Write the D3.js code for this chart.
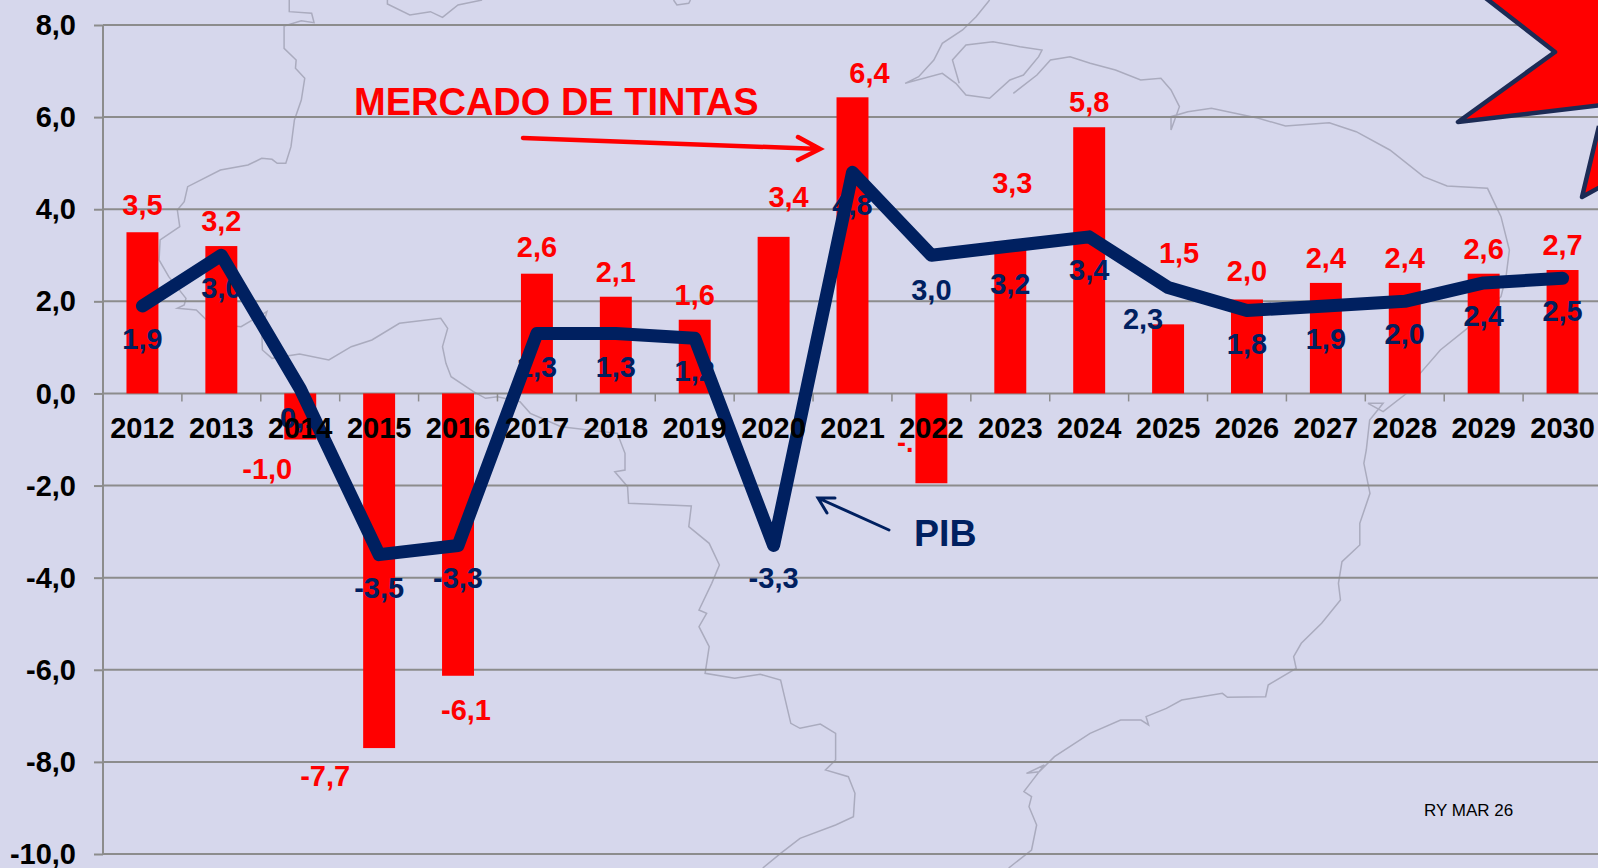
<!DOCTYPE html>
<html>
<head>
<meta charset="utf-8">
<script src="https://cdn.jsdelivr.net/npm/d3@7"></script>
<style>
  html, body { margin: 0; padding: 0; background: #d6d7ec; overflow: hidden; }
  svg { display: block; font-family: "Liberation Sans", Arial, sans-serif; }
</style>
</head>
<body>
<div id="chart"></div>
<script>
const years = [2012, 2013, 2014, 2015, 2016, 2017, 2018, 2019, 2020, 2021, 2022, 2023, 2024, 2025, 2026, 2027, 2028, 2029, 2030];
const tintas = [3.5, 3.2, -1.0, -7.7, -6.13, 2.6, 2.1, 1.6, 3.4, 6.43, -1.95, 3.3, 5.78, 1.5, 2.04, 2.4, 2.4, 2.6, 2.68];
const pib = [1.9, 3.0, 0.1, -3.5, -3.3, 1.3, 1.3, 1.2, -3.3, 4.8, 3.0, 3.2, 3.4, 2.3, 1.8, 1.9, 2.0, 2.4, 2.5];
const yTicks = [8, 6, 4, 2, 0, -2, -4, -6, -8, -10];

const width = 1598;
const height = 868;
const comma = v => v.toFixed(1).replace('.', ',');

const svg = d3.select('#chart').append('svg').attr('width', width).attr('height', height);

svg.append('rect').attr('width', width).attr('height', height).attr('fill', '#d6d7ec');

const z1 = ([x, y]) => [x / 2.904, y / 3];
const z2 = ([x, y]) => [540 + x / 2.958, y / 3];
const z3 = ([x, y]) => [1070 + x / 2.97, y / 3];
const z4 = ([x, y]) => [x / 1.96, 430 + y / 3];
const z5 = ([x, y]) => [800 + x / 1.965, 430 + y / 3];

const mapWest = [
  ...[[840,0],[840,35],[905,40],[912,68],[875,62],[825,78],[825,145],[860,180],[858,205],[885,235],[875,300],[855,360],[845,440],[830,490],[805,490],[790,478],[760,475],[720,495],[640,510],[545,560],[535,605],[515,630],[522,680],[465,720],[462,780],[490,830],[540,895],[535,915],[515,925],[570,930],[600,960],[650,975],[700,980],[775,935],[760,990],[762,1050],[790,1075],[870,1062],[955,1080],[1020,1040],[1080,1020],[1160,970],[1280,955],[1300,985],[1285,1040],[1295,1090],[1310,1130],[1375,1175],[1410,1195],[1445,1190],[1510,1205],[1540,1240]].map(z1),
  ...[[1100,-10],[1210,10],[1225,70],[1225,120],[1205,125],[1230,170],[1232,220],[1355,228],[1350,290],[1390,340],[1410,405],[1395,460],[1370,540],[1385,550],[1370,590],[1390,650],[1382,730],[1440,745],[1490,733],[1530,750],[1550,880],[1568,895]].map(z4),
  ...[[40,882],[70,910],[70,990],[50,1020],[95,1040],[108,1090],[105,1160],[70,1185],[0,1225]].map(z5),
  ...[[1530,1270],[1495,1314]].map(z4)
];
const mapTop = [[1125,0],[1125,12],[1190,45],[1250,35],[1285,52],[1330,15],[1400,0]].map(z1);
const mapTop2 = [[395,0],[405,15],[440,10],[445,0]].map(z2);
const mapIsland = [[1330,0],[1290,50],[1250,90],[1190,130],[1165,180],[1120,230],[1080,250],[1190,220],[1230,250],[1260,285],[1330,295],[1390,240],[1430,225],[1475,170],[1485,150],[1420,140],[1340,125],[1260,135],[1220,180],[1240,250]].map(z2);
const mapCoast = [
  ...[[1400,280],[1470,225],[1510,180],[1568,170]].map(z2),
  ...[[60,190],[135,210],[210,240],[270,235],[300,270],[325,320],[300,390],[300,350],[350,335],[420,325],[490,340],[560,355],[640,378],[770,368],[850,395],[950,450],[1050,530],[1120,558],[1240,565],[1280,650],[1305,750],[1295,830],[1280,890],[1180,985],[1100,1050],[1040,1120],[1000,1180],[930,1235],[885,1210],[930,1210],[890,1260],[880,1350]].map(z3),
  ...[[1108,100],[1120,190],[1100,280],[1100,345],[1065,395],[1058,460],[1062,510],[1025,580],[985,640],[970,680],[975,715],[920,765],[915,800],[840,802],[830,790],[750,810],[720,835],[680,860],[685,885],[670,870],[630,870],[570,910],[500,980],[470,1025],[445,1030],[480,1005],[455,1055],[440,1085],[455,1100],[450,1130],[465,1185],[455,1260],[410,1314]].map(z5)
];
svg.append('g').selectAll('path')
  .data([mapWest, mapTop, mapTop2, mapIsland, mapCoast])
  .enter()
  .append('path')
  .attr('d', d3.line())
  .attr('fill', 'none')
  .attr('stroke', '#aaabbe')
  .attr('stroke-width', 1.5);

// scales
const xScale = d3.scaleBand().domain(years).range([103, 1602]).paddingInner(0.595).paddingOuter(0.2975);
const step = xScale.step();
const center = y => xScale(y) + xScale.bandwidth() / 2;
const yScale = d3.scaleLinear().domain([-10, 8]).range([854, 25]);

// grid and y axis
const yAxis = svg.append('g')
  .attr('transform', 'translate(103,0)')
  .call(d3.axisLeft(yScale).tickValues(yTicks).tickFormat(comma).tickSize(9).tickPadding(18));
yAxis.select('.domain').attr('stroke', '#8c8c8c').attr('stroke-width', 2).attr('d', `M0,${yScale(8)}V${yScale(-10)}`);
yAxis.selectAll('.tick line').attr('stroke', '#8c8c8c').attr('stroke-width', 2);
yAxis.selectAll('.tick text')
  .attr('font-family', '"Liberation Sans", Arial, sans-serif')
  .attr('font-size', 29).attr('font-weight', 'bold').attr('fill', '#000').attr('dy', '0.33em');

svg.append('g').selectAll('line')
  .data(yTicks)
  .enter()
  .append('line')
  .attr('x1', 103).attr('x2', width)
  .attr('y1', d => yScale(d)).attr('y2', d => yScale(d))
  .attr('stroke', '#8c8c8c').attr('stroke-width', 2);

// ticks sit between the categories
svg.append('g').selectAll('line')
  .data(years)
  .enter()
  .append('line')
  .attr('x1', d => center(d) + step / 2).attr('x2', d => center(d) + step / 2)
  .attr('y1', yScale(0)).attr('y2', yScale(0) + 8)
  .attr('stroke', '#8c8c8c').attr('stroke-width', 1.5);

// 2022's red label is almost fully hidden in the source, only these bits show
svg.append('text')
  .attr('x', 897).attr('y', 452)
  .attr('font-size', 27).attr('font-weight', 'bold').attr('fill', '#ff0000')
  .text('-.');

// bars
svg.append('g').selectAll('rect')
  .data(years)
  .enter()
  .append('rect')
  .attr('x', d => xScale(d))
  .attr('width', xScale.bandwidth())
  .attr('y', (d, i) => yScale(Math.max(0, tintas[i])))
  .attr('height', (d, i) => Math.abs(yScale(tintas[i]) - yScale(0)))
  .attr('fill', '#ff0000');

// label nudges, the source labels were placed by hand
const barNudge = {2012: [0, -17], 2014: [-33, 39], 2015: [-54, 38], 2016: [8, 44], 2017: [0, -17], 2020: [15, -30], 2021: [17, -14], 2023: [2, -48], 2025: [11, -61], 2026: [0, -18]};
const pibNudge = {2014: [0, 39], 2022: [0, 45], 2023: [0, 48], 2025: [-25, 41]};

svg.append('g').selectAll('text')
  .data(years.filter(d => d != 2022))
  .enter()
  .append('text')
  .attr('x', d => center(d) + (barNudge[d] ? barNudge[d][0] : 0))
  .attr('y', d => yScale(tintas[years.indexOf(d)]) + (barNudge[d] ? barNudge[d][1] : -15))
  .attr('text-anchor', 'middle')
  .attr('font-size', 29).attr('font-weight', 'bold').attr('fill', '#ff0000')
  .text(d => comma(tintas[years.indexOf(d)]));

svg.append('g').selectAll('text')
  .data(years)
  .enter()
  .append('text')
  .attr('x', d => center(d) + (pibNudge[d] ? pibNudge[d][0] : 0))
  .attr('y', d => yScale(pib[years.indexOf(d)]) + (pibNudge[d] ? pibNudge[d][1] : 43))
  .attr('text-anchor', 'middle')
  .attr('font-size', 29).attr('font-weight', 'bold').attr('fill', '#002060')
  .text(d => comma(pib[years.indexOf(d)]));

// PIB line
const line = d3.line().x(d => center(d)).y(d => yScale(pib[years.indexOf(d)]));
svg.append('path')
  .attr('d', line(years))
  .attr('fill', 'none')
  .attr('stroke', '#002060')
  .attr('stroke-width', 13)
  .attr('stroke-linecap', 'round')
  .attr('stroke-linejoin', 'round');

// year labels go over everything
const xAxis = svg.append('g')
  .attr('transform', `translate(0,${yScale(0)})`)
  .call(d3.axisBottom(xScale).tickSize(0).tickPadding(0));
xAxis.select('.domain').remove();
xAxis.selectAll('.tick text')
  .attr('font-family', '"Liberation Sans", Arial, sans-serif')
  .attr('font-size', 29).attr('font-weight', 'bold').attr('fill', '#000')
  .attr('y', 45).attr('dy', 0);

// annotations
svg.append('text')
  .attr('x', 354).attr('y', 115)
  .attr('font-size', 38).attr('font-weight', 'bold').attr('fill', '#ff0000')
  .text('MERCADO DE TINTAS');
svg.append('path')
  .attr('d', 'M523,138L820,149M798,137L820,149L798,160')
  .attr('fill', 'none').attr('stroke', '#ff0000').attr('stroke-width', 4.5)
  .attr('stroke-linecap', 'round').attr('stroke-linejoin', 'miter');

svg.append('text')
  .attr('x', 914).attr('y', 546)
  .attr('font-size', 37.5).attr('font-weight', 'bold').attr('fill', '#002060')
  .text('PIB');
svg.append('path')
  .attr('d', 'M889,530L818,498M835,498L818,498L827,513')
  .attr('fill', 'none').attr('stroke', '#002060').attr('stroke-width', 3)
  .attr('stroke-linecap', 'round').attr('stroke-linejoin', 'miter');

svg.append('text')
  .attr('x', 1424).attr('y', 816)
  .attr('font-size', 17).attr('fill', '#000')
  .text('RY MAR 26');

// star cut off at the top right corner
svg.append('g').selectAll('path')
  .data(['M1483,-4L1555,52L1458,122L1602,105L1602,-4', 'M1599,126L1582,197L1602,186'])
  .enter()
  .append('path')
  .attr('d', d => d)
  .attr('fill', '#ff0000')
  .attr('stroke', '#1c2b55')
  .attr('stroke-width', 4.5)
  .attr('stroke-linejoin', 'round');
</script>
</body>
</html>
